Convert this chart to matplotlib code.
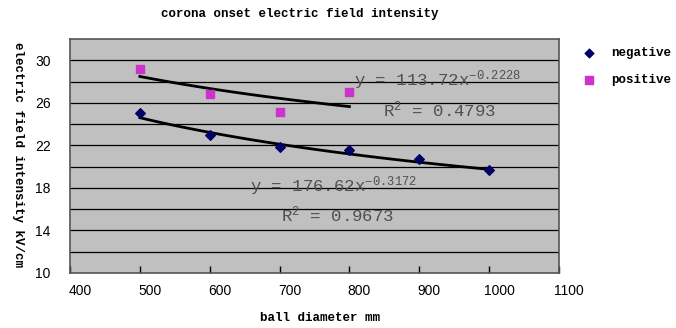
import matplotlib
matplotlib.use("Agg")
import matplotlib.pyplot as plt
import numpy as np
from matplotlib.transforms import ScaledTranslation

diam = [500, 600, 700, 800, 900, 1000]
negative = [25.0, 23.0, 21.8, 21.6, 20.7, 19.7]
diam_pos = [500, 600, 700, 800]
positive = [29.2, 26.8, 25.1, 27.0]
neg_fit = (176.62, -0.3172)
pos_fit = (113.72, -0.2228)
xticks = [400, 500, 600, 700, 800, 900, 1000, 1100]
yticks = [10, 14, 18, 22, 26, 30]

mono = "Liberation Mono"
plt.rcParams["mathtext.fontset"] = "custom"
plt.rcParams["mathtext.rm"] = mono
plt.rcParams["mathtext.it"] = mono
plt.rcParams["mathtext.default"] = "rm"

fig = plt.figure(figsize=(6.76, 3.28), dpi=100)
ax = fig.add_axes([70/676, 1-273/328, (559-70)/676, (273-39)/328])
ax.set_facecolor("#C0C0C0")
ax.set_xlim(400, 1100)
ax.set_ylim(10, 32)
for y in range(12, 32, 2):
    ax.axhline(y, color="black", lw=0.9, zorder=1)

xn = np.linspace(min(diam), max(diam), 50)
ax.plot(xn, neg_fit[0]*xn**neg_fit[1], color="black", lw=2, zorder=2)
xp = np.linspace(min(diam_pos), max(diam_pos), 50)
ax.plot(xp, pos_fit[0]*xp**pos_fit[1], color="black", lw=2, zorder=2)

ax.scatter(diam, negative, marker="D", s=24, color="#000066", zorder=3, label="negative")
ax.scatter(diam_pos, positive, marker="s", s=40, color="#CC33CC", zorder=3, label="positive")

ax.set_xticks(xticks)
ax.set_yticks(yticks)
ax.tick_params(axis="x", direction="in", length=5, width=1, colors="black", labelsize=10, pad=8)
ax.tick_params(axis="y", length=0, labelsize=10, pad=14)
for lab in ax.get_xticklabels():
    lab.set_transform(lab.get_transform() + ScaledTranslation(10/100, 0, fig.dpi_scale_trans))
for lab in ax.get_xticklabels() + ax.get_yticklabels():
    lab.set_family("Liberation Sans")
for s in ax.spines.values():
    s.set_color("#555555")
    s.set_linewidth(1.2)

eq_kw = dict(family=mono, fontsize=12.5, color="#505050", va="center")
fig.text(354/676, 1-80/328, r"y = 113.72x$^{-0.2228}$", **eq_kw)
fig.text(383/676, 1-110/328, r"R$^{2}$ = 0.4793", **eq_kw)
fig.text(250/676, 1-186/328, r"y = 176.62x$^{-0.3172}$", **eq_kw)
fig.text(281/676, 1-215/328, r"R$^{2}$ = 0.9673", **eq_kw)

lab_kw = dict(family=mono, fontsize=9, weight="bold", va="center")
fig.text(300/676, 1-14/328, "corona onset electric field intensity", ha="center", **lab_kw)
fig.text(320/676, 1-318/328, "ball diameter mm", ha="center", **lab_kw)
fig.text(18/676, 1-155/328, "electric field intensity kV/cm", rotation=-90, ha="center", **lab_kw)

fig.legend(loc="upper left", bbox_to_anchor=(565/676, 1-36/328), frameon=False,
           prop={"family": mono, "size": 9, "weight": "bold"}, handletextpad=0.8,
           labelspacing=1.2, markerscale=0.9)

fig.savefig("out.png", dpi=100)
